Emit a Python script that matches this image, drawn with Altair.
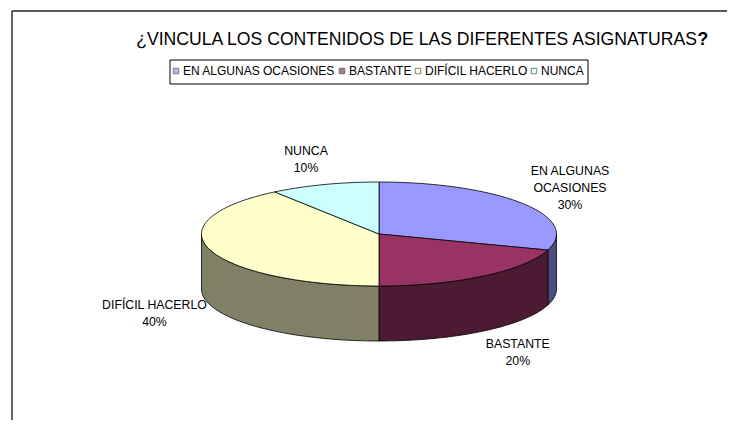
import altair as alt
import numpy as np
import pandas as pd

# ---------------- data ----------------
CATEGORIES = ["EN ALGUNAS OCASIONES", "BASTANTE", "DIFÍCIL HACERLO", "NUNCA"]
PERCENT = [30, 20, 40, 10]
LABEL_LINES = ["EN ALGUNAS\nOCASIONES", "BASTANTE", "DIFÍCIL HACERLO", "NUNCA"]
TITLE = "¿VINCULA LOS CONTENIDOS DE LAS DIFERENTES ASIGNATURAS"

# ---------------- style ----------------
TOP_COLORS = ["#9999FF", "#993366", "#FFFFCC", "#CCFFFF"]
SIDE_COLORS = ["#4D4D80", "#4D1A33", "#808066", "#668080"]
FONT = "Liberation Sans"

W, H = 719, 412
CX, CY, RX, RY, DEPTH = 371, 226, 177.5, 52, 55
LABEL_LH = 17


def pt(theta_deg, drop=0.0):
    t = np.radians(theta_deg)
    return CX + RX * np.sin(t), CY - RY * np.cos(t) + drop


tops, sides, labels = [], [], []
total = float(sum(PERCENT))
start = 0.0
for k, (cat, val) in enumerate(zip(CATEGORIES, PERCENT)):
    span = 360.0 * val / total
    a0, a1 = start, start + span
    n = max(int(span / 2), 2)
    pts = [(CX, CY)] + [pt(th) for th in np.linspace(a0, a1, n + 1)]
    for i, (x, y) in enumerate(pts):
        tops.append(dict(poly=f"top{k}", i=i, x=x, y=y, col=TOP_COLORS[k], cat=cat))
    s0, s1 = max(a0, 90.0), min(a1, 270.0)
    if s1 > s0:
        arc = np.linspace(s0, s1, max(int((s1 - s0) / 2), 2) + 1)
        spts = [pt(th) for th in arc] + [pt(th, DEPTH) for th in arc[::-1]]
        for i, (x, y) in enumerate(spts):
            sides.append(dict(poly=f"side{k}", i=i, x=x, y=y, col=SIDE_COLORS[k], cat=cat))
    mid = np.radians((a0 + a1) / 2)
    text = f"{LABEL_LINES[k]}\n{val}%"
    nlines = text.count("\n") + 1
    lx = CX + 1.33 * RX * np.sin(mid)
    ly = CY - 1.5 * RY * np.cos(mid) + (DEPTH if np.cos(mid) < 0 else 0)
    ly -= (nlines - 1) * LABEL_LH / 2.0
    labels.append(dict(text=text, x=lx, y=ly))
    start = a1

tops_df = pd.DataFrame(tops)
sides_df = pd.DataFrame(sides)
labels_df = pd.DataFrame(labels)

xs = alt.Scale(domain=[0, W], nice=False, zero=False)
ys = alt.Scale(domain=[0, H], nice=False, zero=False, reverse=True)


def poly_layer(df):
    return alt.Chart(df).mark_line(
        filled=True, interpolate="linear-closed", stroke="black", strokeWidth=0.8
    ).encode(
        x=alt.X("x:Q", scale=xs, axis=None),
        y=alt.Y("y:Q", scale=ys, axis=None),
        order=alt.Order("i:Q"),
        detail="poly:N",
        fill=alt.Fill("col:N", scale=None),
    )


side_layer = poly_layer(sides_df)
top_layer = poly_layer(tops_df)

label_layer = alt.Chart(labels_df).mark_text(
    font=FONT, fontSize=12.3, lineBreak="\n", lineHeight=LABEL_LH,
    align="center", baseline="middle", color="black"
).encode(
    x=alt.X("x:Q", scale=xs, axis=None),
    y=alt.Y("y:Q", scale=ys, axis=None),
    text="text:N",
)

title_df = pd.DataFrame({"t": [TITLE]})
title_layer = alt.Chart(title_df).mark_text(
    font=FONT, fontSize=17.6, align="right", baseline="alphabetic", color="black"
).encode(text="t:N", x=alt.value(689), y=alt.value(37))
qmark_layer = alt.Chart(title_df).mark_text(
    font=FONT, fontSize=17.6, fontWeight="bold", align="left",
    baseline="alphabetic", color="black"
).encode(text=alt.value("?"), x=alt.value(689.5), y=alt.value(37))

frame_df = pd.DataFrame({"a": [0]})
legend_box = alt.Chart(frame_df).mark_rect(
    fill="white", stroke="black", strokeWidth=1
).encode(x=alt.value(162), x2=alt.value(580), y=alt.value(52), y2=alt.value(76))

legend_df = pd.DataFrame({"cat": CATEGORIES})
legend_layer = alt.Chart(legend_df).mark_square(size=30).encode(
    x=alt.value(-60),
    y=alt.value(-60),
    color=alt.Color(
        "cat:N",
        scale=alt.Scale(domain=CATEGORIES, range=TOP_COLORS),
        sort=CATEGORIES,
        legend=alt.Legend(
            title=None, orient="none", legendX=162, legendY=57,
            direction="horizontal", symbolType="square", symbolSize=30,
            symbolStrokeColor="#222", symbolStrokeWidth=0.8,
            labelFont=FONT, labelFontSize=12, labelColor="black",
            labelOffset=1, columnPadding=0, padding=0, labelLimit=300,
        ),
    ),
)

frame_left = alt.Chart(frame_df).mark_rule(color="#222", strokeWidth=1.4).encode(
    x=alt.value(4), y=alt.value(3), y2=alt.value(H)
)
frame_top = alt.Chart(frame_df).mark_rule(color="#222", strokeWidth=1.4).encode(
    x=alt.value(4), x2=alt.value(W), y=alt.value(3)
)

chart = alt.layer(
    frame_left, frame_top, legend_box, side_layer, top_layer, label_layer,
    title_layer, qmark_layer, legend_layer
).properties(
    width=W, height=H, padding=0, autosize="none"
).configure_view(stroke=None)

chart.save("out.html", embed_options={"renderer": "svg", "actions": False})
